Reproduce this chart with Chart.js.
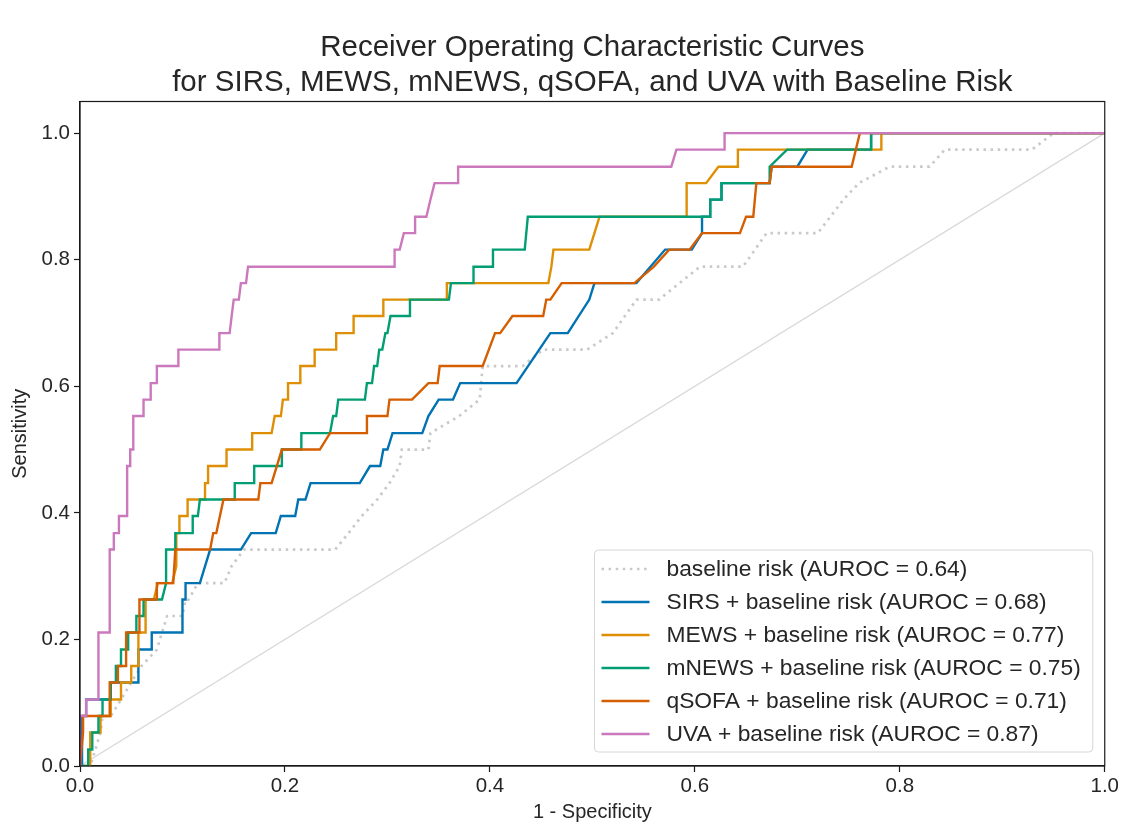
<!DOCTYPE html>
<html><head><meta charset="utf-8">
<script src="https://cdn.jsdelivr.net/npm/chart.js@4.4.1/dist/chart.umd.min.js"></script>
<style>html,body{margin:0;padding:0;background:#fff;}#wrap{width:1121px;height:824px;}</style>
</head><body><div id="wrap"><canvas id="c" width="1121" height="824"></canvas></div>
<script>
const titleLines = ["Receiver Operating Characteristic Curves", "for SIRS, MEWS, mNEWS, qSOFA, and UVA with Baseline Risk"];
const xTitle = "1 - Specificity";
const yTitle = "Sensitivity";
const xTicks = [0, 0.2, 0.4, 0.6, 0.8, 1.0];
const yTicks = [0, 0.2, 0.4, 0.6, 0.8, 1.0];
const seriesLabels = [
  "baseline risk (AUROC = 0.64)",
  "SIRS + baseline risk (AUROC = 0.68)",
  "MEWS + baseline risk (AUROC = 0.77)",
  "mNEWS + baseline risk (AUROC = 0.75)",
  "qSOFA + baseline risk (AUROC = 0.71)",
  "UVA + baseline risk (AUROC = 0.87)"
];
const chanceFpr = [0, 1];
const chanceTpr = [0, 1];

const baselineFpr = [0,0.01,0.015,0.02,0.022,0.03,0.04,0.05,0.06,0.075,0.08,0.085,0.1,0.103,0.106,0.115,0.141,0.148,0.16,0.249,0.262,0.275,0.29,0.302,0.312,0.314,0.34,0.342,0.37,0.39,0.393,0.432,0.452,0.495,0.52,0.543,0.565,0.605,0.647,0.67,0.72,0.745,0.76,0.79,0.829,0.844,0.929,0.95,1];
const baselineTpr = [0,0,0.026,0.053,0.079,0.079,0.105,0.132,0.158,0.184,0.211,0.237,0.237,0.263,0.263,0.289,0.289,0.316,0.342,0.342,0.368,0.395,0.421,0.447,0.474,0.5,0.5,0.526,0.553,0.579,0.632,0.632,0.658,0.658,0.684,0.737,0.737,0.789,0.789,0.842,0.842,0.895,0.921,0.947,0.947,0.974,0.974,1,1];

const sirsFpr = [0,0.002,0.002,0.006,0.006,0.03,0.03,0.057,0.057,0.07,0.07,0.1,0.1,0.103,0.103,0.117,0.127,0.157,0.167,0.191,0.196,0.21,0.213,0.22,0.225,0.273,0.283,0.293,0.296,0.3,0.305,0.334,0.34,0.35,0.364,0.371,0.426,0.459,0.476,0.497,0.502,0.543,0.571,0.597,0.607,0.607,0.615,0.615,0.626,0.626,0.673,0.675,0.7,0.71,0.772,0.772,1];
const sirsTpr = [0,0,0.079,0.079,0.105,0.105,0.132,0.132,0.184,0.184,0.211,0.211,0.263,0.263,0.289,0.289,0.342,0.342,0.368,0.368,0.395,0.395,0.421,0.421,0.447,0.447,0.474,0.474,0.5,0.5,0.526,0.526,0.553,0.579,0.579,0.605,0.605,0.684,0.684,0.737,0.763,0.763,0.816,0.816,0.842,0.868,0.868,0.895,0.895,0.921,0.921,0.947,0.947,0.974,0.974,1,1];

const mewsFpr = [0,0.01,0.01,0.02,0.02,0.03,0.03,0.04,0.04,0.05,0.05,0.057,0.057,0.064,0.064,0.072,0.076,0.09,0.094,0.094,0.097,0.097,0.105,0.105,0.122,0.122,0.125,0.125,0.143,0.143,0.168,0.168,0.187,0.19,0.196,0.198,0.203,0.203,0.215,0.215,0.229,0.229,0.25,0.25,0.267,0.267,0.296,0.296,0.358,0.358,0.457,0.46,0.462,0.497,0.507,0.592,0.592,0.611,0.623,0.642,0.642,0.782,0.782,1];
const mewsTpr = [0,0,0.053,0.053,0.079,0.079,0.105,0.105,0.132,0.132,0.158,0.158,0.211,0.211,0.263,0.263,0.289,0.289,0.316,0.368,0.368,0.395,0.395,0.421,0.421,0.447,0.447,0.474,0.474,0.5,0.5,0.526,0.526,0.553,0.553,0.579,0.579,0.605,0.605,0.632,0.632,0.658,0.658,0.684,0.684,0.711,0.711,0.737,0.737,0.763,0.763,0.789,0.816,0.816,0.868,0.868,0.921,0.921,0.947,0.947,0.974,0.974,1,1];

const mnewsFpr = [0,0.008,0.008,0.012,0.012,0.018,0.018,0.022,0.022,0.03,0.03,0.035,0.035,0.04,0.04,0.047,0.047,0.055,0.055,0.062,0.062,0.08,0.084,0.084,0.093,0.093,0.11,0.11,0.115,0.117,0.151,0.151,0.17,0.17,0.197,0.197,0.216,0.216,0.244,0.247,0.25,0.252,0.278,0.28,0.285,0.287,0.29,0.292,0.295,0.298,0.3,0.303,0.322,0.322,0.36,0.362,0.384,0.384,0.403,0.403,0.434,0.437,0.615,0.615,0.626,0.626,0.673,0.673,0.69,0.772,0.772,1];
const mnewsTpr = [0,0,0.026,0.026,0.053,0.053,0.079,0.079,0.105,0.105,0.132,0.132,0.158,0.158,0.184,0.184,0.211,0.211,0.237,0.237,0.263,0.263,0.289,0.342,0.342,0.368,0.368,0.395,0.395,0.421,0.421,0.447,0.447,0.474,0.474,0.5,0.5,0.526,0.526,0.553,0.553,0.579,0.579,0.605,0.605,0.632,0.632,0.658,0.658,0.684,0.684,0.711,0.711,0.737,0.737,0.763,0.763,0.789,0.789,0.816,0.816,0.868,0.868,0.895,0.895,0.921,0.921,0.947,0.974,0.974,1,1];

const qsofaFpr = [0,0.003,0.003,0.029,0.029,0.037,0.037,0.045,0.045,0.058,0.058,0.075,0.075,0.091,0.093,0.127,0.13,0.133,0.14,0.174,0.176,0.187,0.197,0.234,0.244,0.28,0.28,0.3,0.302,0.324,0.34,0.349,0.351,0.393,0.405,0.41,0.422,0.452,0.455,0.459,0.47,0.541,0.56,0.575,0.595,0.607,0.644,0.65,0.657,0.66,0.673,0.675,0.753,0.761,1];
const qsofaTpr = [0,0.053,0.079,0.079,0.132,0.132,0.158,0.158,0.211,0.211,0.263,0.263,0.289,0.289,0.342,0.342,0.368,0.368,0.421,0.421,0.447,0.447,0.5,0.5,0.526,0.526,0.553,0.553,0.579,0.579,0.605,0.605,0.632,0.632,0.684,0.684,0.711,0.711,0.737,0.737,0.763,0.763,0.789,0.816,0.816,0.842,0.842,0.868,0.868,0.921,0.921,0.947,0.947,1,1];

const uvaFpr = [0,0,0.006,0.006,0.018,0.018,0.029,0.029,0.033,0.033,0.038,0.038,0.046,0.046,0.049,0.049,0.052,0.052,0.062,0.062,0.069,0.069,0.075,0.075,0.096,0.096,0.136,0.136,0.146,0.148,0.15,0.155,0.157,0.162,0.164,0.307,0.307,0.312,0.316,0.327,0.327,0.338,0.342,0.346,0.369,0.369,0.577,0.582,0.629,0.629,1];
const uvaTpr = [0,0.079,0.079,0.105,0.105,0.211,0.211,0.342,0.342,0.368,0.368,0.395,0.395,0.474,0.474,0.5,0.5,0.553,0.553,0.579,0.579,0.605,0.605,0.632,0.632,0.658,0.658,0.684,0.684,0.711,0.737,0.737,0.763,0.763,0.789,0.789,0.816,0.816,0.842,0.842,0.868,0.868,0.895,0.921,0.921,0.947,0.947,0.974,0.974,1,1];

const FONT = "'Liberation Sans', Arial, Helvetica, sans-serif";
const TEXT = '#262626';
const pts = (xs, ys) => xs.map((x, i) => ({x: x, y: ys[i]}));

function ds(label, xs, ys, color, order, extra) {
  return Object.assign({
    label: label, data: pts(xs, ys), borderColor: color, backgroundColor: color,
    borderWidth: 2.4, pointRadius: 0, showLine: true, tension: 0, fill: false,
    order: order, borderJoinStyle: 'miter', borderCapStyle: 'butt'
  }, extra || {});
}

const datasets = [
  ds('chance', chanceFpr, chanceTpr, '#d9d9d9', 20, {borderWidth: 1.3, inLegend: false}),
  ds(seriesLabels[0], baselineFpr, baselineTpr, '#c9c9c9', 7, {borderDash: [2.5, 4.6], borderWidth: 2.7, inLegend: true}),
  ds(seriesLabels[1], sirsFpr, sirsTpr, '#0173B2', 6, {inLegend: true}),
  ds(seriesLabels[2], mewsFpr, mewsTpr, '#DE8F05', 5, {inLegend: true}),
  ds(seriesLabels[3], mnewsFpr, mnewsTpr, '#029E73', 4, {inLegend: true}),
  ds(seriesLabels[4], qsofaFpr, qsofaTpr, '#D55E00', 3, {inLegend: true}),
  ds(seriesLabels[5], uvaFpr, uvaTpr, '#CC78BC', 2, {inLegend: true})
];

const framePlugin = {
  id: 'frame',
  afterDatasetsDraw(chart) {
    const a = chart.chartArea, c = chart.ctx;
    c.save();
    c.strokeStyle = '#1a1a1a'; c.lineWidth = 1.2;
    c.strokeRect(a.left, a.top, a.right - a.left, a.bottom - a.top);
    c.restore();
  }
};

const titlePlugin = {
  id: 'plotTitle',
  afterDraw(chart) {
    const c = chart.ctx, a = chart.chartArea;
    const cx = (a.left + a.right) / 2;
    c.save();
    c.font = '29.5px ' + FONT;
    c.fillStyle = TEXT; c.textAlign = 'center'; c.textBaseline = 'middle';
    c.fillText(titleLines[0], cx, a.top - 54);
    c.fillText(titleLines[1], cx, a.top - 19);
    c.restore();
  }
};

const legendPlugin = {
  id: 'boxLegend',
  afterDraw(chart) {
    const c = chart.ctx, a = chart.chartArea;
    const items = chart.data.datasets.filter(d => d.inLegend);
    const fs = 22.8, rowH = 33, padTop = 19, padBottom = 18;
    c.save();
    c.font = fs + 'px ' + FONT;
    let maxW = 0;
    items.forEach(d => { maxW = Math.max(maxW, c.measureText(d.label).width); });
    const sampleLeft = 7, sampleLen = 48, gap = 17, padRight = 12;
    const w = sampleLeft + sampleLen + gap + maxW + padRight;
    const h = padTop + padBottom + rowH * (items.length - 1);
    const right = a.right - 12, bottom = a.bottom - 14;
    const left = right - w, top = bottom - h;
    c.beginPath();
    if (c.roundRect) c.roundRect(left, top, w, h, 4); else c.rect(left, top, w, h);
    c.fillStyle = 'rgba(255,255,255,0.8)'; c.fill();
    c.strokeStyle = '#d6d6d6'; c.lineWidth = 1; c.stroke();
    items.forEach((d, i) => {
      const y = top + padTop + i * rowH;
      c.beginPath();
      c.strokeStyle = d.borderColor; c.lineWidth = d.borderWidth;
      c.setLineDash(d.borderDash || []);
      c.moveTo(left + sampleLeft, y); c.lineTo(left + sampleLeft + sampleLen, y);
      c.stroke();
      c.setLineDash([]);
      c.fillStyle = TEXT; c.textBaseline = 'middle'; c.textAlign = 'left';
      c.fillText(d.label, left + sampleLeft + sampleLen + gap, y + 1);
    });
    c.restore();
  }
};

const tickFmt = v => Number(v).toFixed(1);

new Chart(document.getElementById('c'), {
  type: 'scatter',
  data: { datasets: datasets },
  options: {
    responsive: false, animation: false, devicePixelRatio: 1,
    layout: { padding: { left: 0, right: 16, top: 101.5, bottom: 0 } },
    plugins: {
      legend: { display: false },
      tooltip: { enabled: false },
      title: { display: false }
    },
    scales: {
      x: {
        type: 'linear', min: 0, max: 1,
        afterBuildTicks: s => { s.ticks = xTicks.map(v => ({value: v})); },
        afterFit: s => { s.height = 58; },
        grid: { display: true, drawOnChartArea: false, drawTicks: true, tickLength: 6, color: '#1a1a1a', tickWidth: 1.2 },
        border: { display: true, color: '#1a1a1a', width: 1.2 },
        ticks: { callback: tickFmt, color: TEXT, font: { family: FONT, size: 20.5 }, padding: 2, maxRotation: 0 },
        title: { display: true, text: xTitle, color: TEXT, font: { family: FONT, size: 20 }, padding: { top: 0, bottom: 0 } }
      },
      y: {
        type: 'linear', min: 0, max: 1.05,
        afterBuildTicks: s => { s.ticks = yTicks.map(v => ({value: v})); },
        afterFit: s => { s.width = 80; },
        grid: { display: true, drawOnChartArea: false, drawTicks: true, tickLength: 6, color: '#1a1a1a', tickWidth: 1.2 },
        border: { display: true, color: '#1a1a1a', width: 1.2 },
        ticks: { callback: tickFmt, color: TEXT, font: { family: FONT, size: 20.5 }, padding: 4 },
        title: { display: true, text: yTitle, color: TEXT, font: { family: FONT, size: 20 }, padding: { top: 8, bottom: 0 } }
      }
    }
  },
  plugins: [framePlugin, legendPlugin, titlePlugin]
});
</script>
</body></html>
